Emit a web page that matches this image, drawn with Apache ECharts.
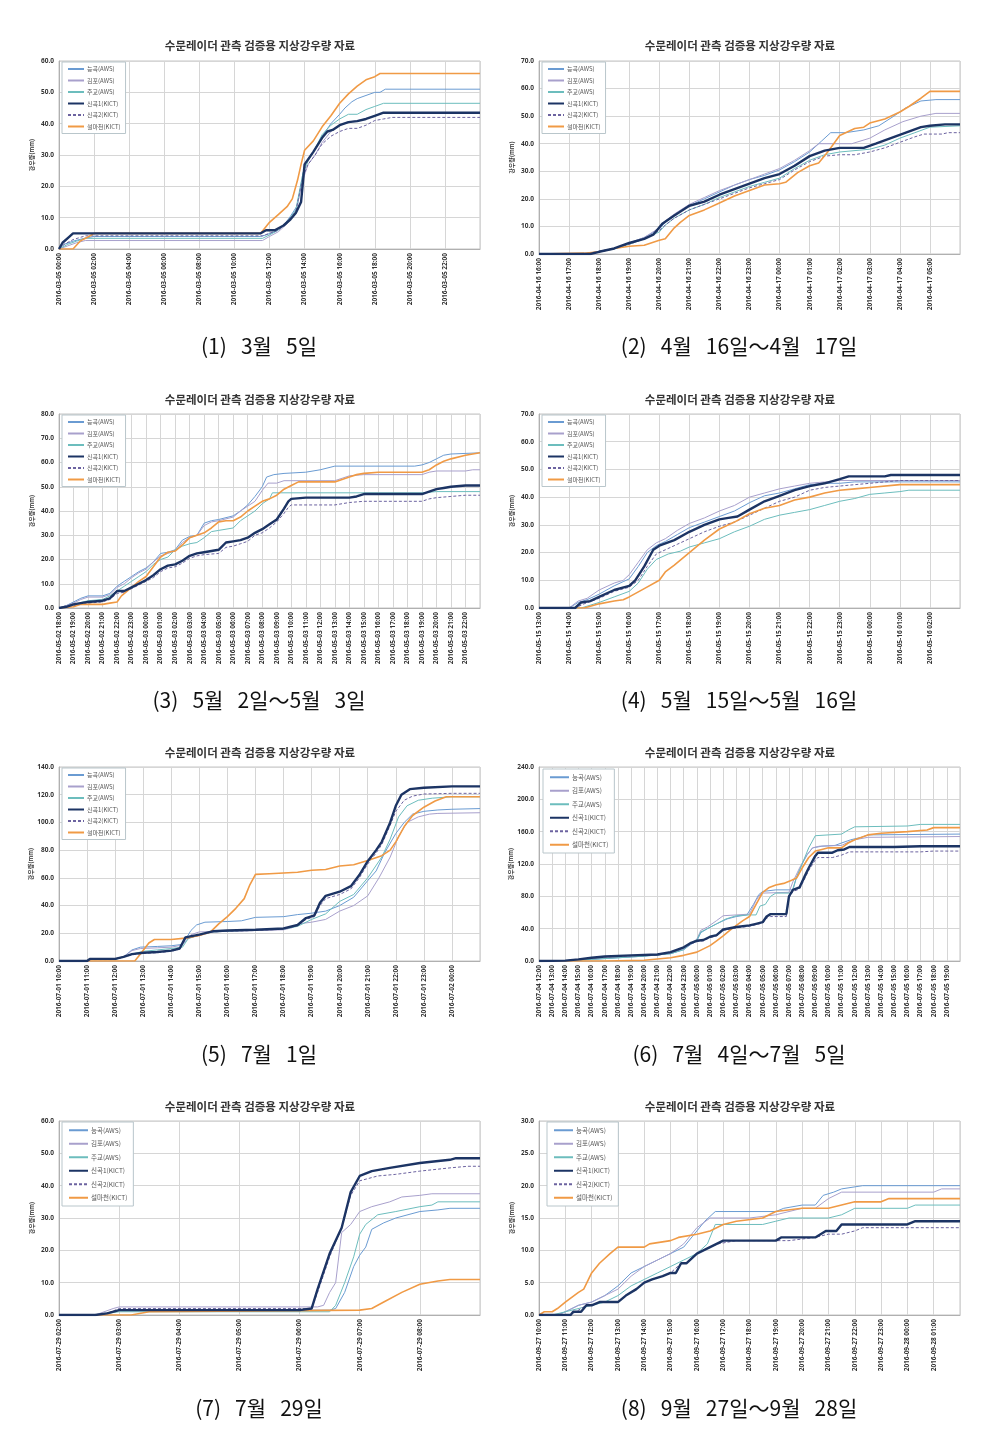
<!DOCTYPE html>
<html><head><meta charset="utf-8">
<script src="https://cdn.jsdelivr.net/npm/echarts@6/dist/echarts.min.js"></script>
<style>html,body{margin:0;padding:0;background:#fff}#c{width:981px;height:1441px}</style>
</head><body><div id="c"></div>
<script>
const seriesNames = ['능곡(AWS)','김포(AWS)','주교(AWS)','신곡1(KICT)','신곡2(KICT)','설마천(KICT)'];
const chartTitle = '수문레이더 관측 검증용 지상강우량 자료';
const yAxisName = '강우량(mm)';
const captions = ['(1)   3월   5일','(2)   4월   16일～4월   17일','(3)   5월   2일～5월   3일','(4)   5월   15일～5월   16일',
  '(5)   7월   1일','(6)   7월   4일～7월   5일','(7)   7월   29일','(8)   9월   27일～9월   28일'];

// x tick labels per panel
const p1_xlabels = ['2016-03-05 00:00','2016-03-05 02:00','2016-03-05 04:00','2016-03-05 06:00','2016-03-05 08:00','2016-03-05 10:00','2016-03-05 12:00','2016-03-05 14:00','2016-03-05 16:00','2016-03-05 18:00','2016-03-05 20:00','2016-03-05 22:00'];
const p2_xlabels = ['2016-04-16 16:00','2016-04-16 17:00','2016-04-16 18:00','2016-04-16 19:00','2016-04-16 20:00','2016-04-16 21:00','2016-04-16 22:00','2016-04-16 23:00','2016-04-17 00:00','2016-04-17 01:00','2016-04-17 02:00','2016-04-17 03:00','2016-04-17 04:00','2016-04-17 05:00'];
const p3_xlabels = ['2016-05-02 18:00','2016-05-02 19:00','2016-05-02 20:00','2016-05-02 21:00','2016-05-02 22:00','2016-05-02 23:00','2016-05-03 00:00','2016-05-03 01:00','2016-05-03 02:00','2016-05-03 03:00','2016-05-03 04:00','2016-05-03 05:00','2016-05-03 06:00','2016-05-03 07:00','2016-05-03 08:00','2016-05-03 09:00','2016-05-03 10:00','2016-05-03 11:00','2016-05-03 12:00','2016-05-03 13:00','2016-05-03 14:00','2016-05-03 15:00','2016-05-03 16:00','2016-05-03 17:00','2016-05-03 18:00','2016-05-03 19:00','2016-05-03 20:00','2016-05-03 21:00','2016-05-03 22:00'];
const p4_xlabels = ['2016-05-15 13:00','2016-05-15 14:00','2016-05-15 15:00','2016-05-15 16:00','2016-05-15 17:00','2016-05-15 18:00','2016-05-15 19:00','2016-05-15 20:00','2016-05-15 21:00','2016-05-15 22:00','2016-05-15 23:00','2016-05-16 00:00','2016-05-16 01:00','2016-05-16 02:00'];
const p5_xlabels = ['2016-07-01 10:00','2016-07-01 11:00','2016-07-01 12:00','2016-07-01 13:00','2016-07-01 14:00','2016-07-01 15:00','2016-07-01 16:00','2016-07-01 17:00','2016-07-01 18:00','2016-07-01 19:00','2016-07-01 20:00','2016-07-01 21:00','2016-07-01 22:00','2016-07-01 23:00','2016-07-02 00:00'];
const p6_xlabels = ['2016-07-04 12:00','2016-07-04 13:00','2016-07-04 14:00','2016-07-04 15:00','2016-07-04 16:00','2016-07-04 17:00','2016-07-04 18:00','2016-07-04 19:00','2016-07-04 20:00','2016-07-04 21:00','2016-07-04 22:00','2016-07-04 23:00','2016-07-05 00:00','2016-07-05 01:00','2016-07-05 02:00','2016-07-05 03:00','2016-07-05 04:00','2016-07-05 05:00','2016-07-05 06:00','2016-07-05 07:00','2016-07-05 08:00','2016-07-05 09:00','2016-07-05 10:00','2016-07-05 11:00','2016-07-05 12:00','2016-07-05 13:00','2016-07-05 14:00','2016-07-05 15:00','2016-07-05 16:00','2016-07-05 17:00','2016-07-05 18:00','2016-07-05 19:00'];
const p7_xlabels = ['2016-07-29 02:00','2016-07-29 03:00','2016-07-29 04:00','2016-07-29 05:00','2016-07-29 06:00','2016-07-29 07:00','2016-07-29 08:00'];
const p8_xlabels = ['2016-09-27 10:00','2016-09-27 11:00','2016-09-27 12:00','2016-09-27 13:00','2016-09-27 14:00','2016-09-27 15:00','2016-09-27 16:00','2016-09-27 17:00','2016-09-27 18:00','2016-09-27 19:00','2016-09-27 20:00','2016-09-27 21:00','2016-09-27 22:00','2016-09-27 23:00','2016-09-28 00:00','2016-09-28 01:00'];

// data: [hours since first tick, cumulative rainfall mm]
const p1_neunggok = [[0,0],[0.3,1.5],[0.8,2.5],[1.5,3.5],[2,4],[11.5,4],[11.8,4.5],[12.3,5.5],[12.8,7.5],[13.2,10.5],[13.6,14],[13.9,24],[14.1,28],[14.5,31],[15,36],[15.5,40],[16,43],[16.3,45],[16.7,47],[17,48],[17.5,49],[18,50],[18.3,50],[18.6,51],[24,51]];
const p1_gimpo = [[0,0],[0.5,1],[1,2],[1.5,2.7],[11.6,2.7],[12,4],[12.5,5.5],[13,8],[13.5,12],[13.9,22],[14.2,27],[14.6,30],[15,34],[15.5,37.5],[16,39.5],[16.5,40.5],[17,41],[17.5,41.5],[18,42.5],[18.5,43.5],[24,43.5]];
const p1_jugyo = [[0,0],[0.5,1.5],[1,2.5],[1.5,3.4],[11.6,3.4],[12,4.5],[12.5,6],[13,8.5],[13.5,12.5],[13.9,24],[14.2,28],[14.6,32],[15,36.5],[15.5,39.5],[16,41.5],[16.5,43],[17,43],[17.5,44.5],[18,45.5],[18.5,46.5],[24,46.5]];
const p1_singok1 = [[0,0],[0.2,2],[0.5,3.5],[0.8,5],[11.5,5],[11.8,6],[12.3,6],[12.8,7.5],[13.2,9.5],[13.5,11.5],[13.8,15],[14,27],[14.5,31],[15,35.5],[15.3,37.5],[15.6,38],[16,39.5],[16.5,40.5],[17,40.8],[17.5,41.5],[18,42.5],[18.5,43.5],[24,43.5]];
const p1_singok2 = [[0,0],[0.3,1.5],[0.8,3],[1.5,4.2],[11.6,4.2],[12,5],[12.5,6],[13,8.5],[13.5,12],[13.9,23],[14.2,27],[14.6,30],[15,33.5],[15.5,36],[16,37.5],[16.5,38.5],[17,38.5],[17.5,39.5],[18,41],[18.5,41.5],[19,42],[24,42]];
const p1_seolma = [[0,0],[0.8,0],[1.2,2.5],[1.7,4],[2,5],[11.5,5],[12,8.5],[12.5,11],[13,13.5],[13.3,16],[13.6,22],[13.8,27],[14,31.5],[14.5,34.5],[15,39],[15.5,42.5],[16,46.5],[16.5,49.5],[17,52],[17.5,54],[18,55],[18.3,56],[24,56]];

const p2_neunggok = [[0,0],[1.5,0],[2,1],[2.5,2],[3,4],[3.5,6],[4,9],[4.2,11.5],[4.5,14],[5,17.5],[5.5,20],[6,22.5],[6.5,25],[7,27],[7.5,28.5],[8,30.5],[8.5,33.5],[9,37],[9.4,41],[9.7,44],[10.2,44],[10.8,45],[11.3,46.5],[11.8,50],[12.2,53],[12.7,55.5],[13.2,56],[14,56]];
const p2_gimpo = [[0,0],[1.5,0],[2,1],[2.5,2],[3,4],[3.5,6],[4,9.5],[4.2,12],[4.5,14.5],[5,18],[5.5,20.5],[6,23],[6.5,25],[7,27],[7.5,29],[8,31],[8.5,34],[9,37.5],[9.3,40],[10.4,40],[11,42],[11.5,45],[12.1,48],[12.7,50],[13.2,51],[14,51]];
const p2_jugyo = [[0,0],[1.6,0],[2,0.8],[2.5,1.8],[3,3.5],[3.5,5.5],[4,8],[4.2,10.5],[4.5,13],[5,16],[5.5,18],[6,20.5],[6.5,22.5],[7,24.5],[7.5,26],[8,27.5],[8.5,31],[9,34],[9.5,36],[10,37],[11,38],[11.5,39.5],[12,42],[12.5,44],[13,46],[14,46.5]];
const p2_singok1 = [[0,0],[1.7,0],[2,0.8],[2.5,2],[3,4],[3.5,5.5],[3.8,7],[4.1,11],[4.5,14],[5,17.5],[5.5,19],[6,21.5],[6.5,23.5],[7,25.5],[7.5,27.5],[8,29],[8.5,32],[9,35.5],[9.5,37.5],[10,38.5],[10.8,38.5],[11.2,40],[11.7,42],[12.2,44],[12.7,46],[13,46.5],[13.5,47],[14,47]];
const p2_singok2 = [[0,0],[1.7,0],[2,0.8],[2.5,2],[3,3.5],[3.5,5.5],[4,8.5],[4.2,10.5],[4.5,13],[5,16],[5.5,18],[6,20],[6.5,22],[7,24],[7.5,25.5],[8,27],[8.5,30.5],[9,33.5],[9.5,35.5],[10,36],[10.5,36],[11,37],[11.5,38.5],[12,40.5],[12.5,42.5],[12.8,43.5],[13.4,43.5],[13.6,44],[14,44]];
const p2_seolma = [[0,0],[1.5,0.3],[2,0.8],[2.5,2],[3,2.8],[3.5,3.2],[4,5],[4.2,5.5],[4.5,9.5],[4.7,11.5],[5,14],[5.5,16],[6,18.5],[6.5,21],[7,23],[7.5,25],[8,25.5],[8.2,26],[8.6,29.5],[9,32],[9.3,33],[9.6,37],[10,43],[10.5,45.5],[10.8,46],[11,47.5],[11.5,49],[12,51.5],[12.3,53.5],[12.7,56.5],[13,59],[14,59]];

const p3_neunggok = [[0,0],[0.5,1],[1,2.5],[1.5,4],[2,5],[3,5],[3.5,6],[4,9],[4.5,11],[5,13],[5.5,15],[6,16.5],[6.5,19],[7,22.5],[7.5,23],[8,24],[8.5,28],[9,29.5],[9.5,30],[10,35],[10.5,36],[11,36.5],[12,38],[12.5,40],[13,42.5],[13.5,46],[14,50],[14.3,54],[14.8,55],[15.5,55.5],[17,56],[18,57],[19,58.5],[24.5,58.5],[25,59],[25.5,60],[26,61.5],[26.5,63],[27,63.5],[29,64]];
const p3_gimpo = [[0,0],[0.5,1],[1,2],[1.5,3.5],[2,4.5],[3,4.5],[3.5,5.5],[4,8.5],[4.5,10],[5,12.5],[5.5,14.5],[6,16],[6.5,19],[7,21.5],[7.5,22.5],[8,23.5],[8.5,27],[9,29],[9.5,30],[10,34],[10.5,35.5],[11,36],[12,37.5],[12.5,40],[13,42],[13.5,44],[14,48.5],[14.4,51.5],[15,51.5],[15.5,52.5],[19,52.5],[19.5,53.5],[20,54.5],[21,55],[25,55],[25.5,56],[26,56.5],[28,56.5],[28.5,57],[29,57]];
const p3_jugyo = [[0,0],[0.5,0.5],[1,1.5],[2,3],[3,3.5],[3.5,5],[4,7],[4.5,9],[5,11],[5.5,13],[6,15],[6.5,18],[7,20],[7.5,21],[8,24],[8.5,25.5],[9,26.5],[9.5,27],[10,29],[10.5,31.5],[11,32],[12,33],[12.5,36],[13,38],[13.5,40],[14,43],[14.5,45],[14.7,47.5],[25,47.5],[26,48],[29,48]];
const p3_singok1 = [[0,0],[0.5,0.5],[1,1.5],[2,2.5],[3,3],[3.5,4],[4,7],[4.5,7],[5,8.5],[5.5,10],[6,11.5],[6.5,13.5],[7,16],[7.5,17.5],[8,18],[8.5,19.5],[9,21.5],[9.5,22.5],[10,23],[11,24],[11.5,27],[12,27.5],[12.5,28],[13,29],[13.5,31],[14,32.5],[14.5,34.5],[15,36.5],[15.5,41],[15.8,44],[16,45],[17,45.5],[20,45.5],[20.5,46],[21,47],[25,47],[25.5,48],[26,49],[26.5,49.5],[27,50],[28,50.5],[29,50.5]];
const p3_singok2 = [[0,0],[0.5,0.5],[1,1],[2,2],[3,2.5],[3.5,3.5],[4,6],[4.5,6.5],[5,8],[5.5,9.5],[6,11],[6.5,12.5],[7,15],[7.5,16.5],[8,17],[8.5,18.5],[9,20.5],[9.5,21.5],[10,22],[11,22.5],[11.5,25],[12,25.5],[12.5,26.5],[13,27.5],[13.5,30],[14,31],[14.5,33],[15,35.5],[15.5,39],[15.8,41.5],[16,42.5],[19,42.5],[20,43.5],[21,44],[25,44],[25.5,45],[26,45.5],[27,46],[28,46.5],[29,46.5]];
const p3_seolma = [[0,0],[1,0.5],[1.5,1.5],[3,1.5],[3.5,2],[4,2.5],[4.3,5],[5,8.5],[5.5,11],[6,13],[6.5,17],[7,21],[7.5,23],[8,23.5],[8.5,26],[9,29],[9.5,30],[10,31],[10.5,33],[11,35.5],[11.5,36],[12,36],[12.5,37.5],[13,40],[13.5,42],[14,44],[14.5,45],[15,46.5],[15.5,49],[16,50.5],[16.5,52],[19,52],[19.5,53],[20,54],[20.5,55],[21,55.5],[22,56],[25,56],[25.5,57],[26,59],[26.5,60.5],[27,61.5],[28,63],[29,64]];

const p4_neunggok = [[0,0],[1,0],[1.3,2],[1.6,3],[2,5],[2.5,8],[2.8,9.5],[3,10.5],[3.3,15],[3.6,20],[3.9,22.5],[4.2,24],[4.6,26.5],[5,29],[5.5,31],[6,33],[6.5,35],[7,38],[7.5,40.5],[8,41.5],[8.5,43],[9,44.5],[9.5,45],[10,45],[10.5,45.5],[14,45.5]];
const p4_gimpo = [[0,0],[1,0],[1.3,2.5],[1.6,3.5],[2,6.5],[2.5,9],[2.8,10],[3,12],[3.3,16.5],[3.6,21],[3.9,23.5],[4.2,25],[4.6,28],[5,30.5],[5.5,32.5],[6,35],[6.5,37],[7,40],[7.5,41.5],[8,43],[8.5,44],[9,45],[9.5,45.5],[10,46],[14,46]];
const p4_jugyo = [[0,0],[1.4,0],[1.7,1],[2,2],[2.5,4],[3,6],[3.3,9],[3.6,14],[3.9,17.5],[4.3,19.5],[4.7,20.5],[5,22],[5.5,23.5],[6,25],[6.5,27.5],[7,29.5],[7.5,32],[8,33.5],[8.5,34.5],[9,35.5],[9.5,37],[10,38.5],[10.5,39.5],[11,41],[11.5,41.5],[12,42],[12.3,42.5],[14,42.5]];
const p4_singok1 = [[0,0],[1.2,0],[1.4,2],[1.7,2.5],[2,4],[2.5,6.5],[3,8],[3.2,10],[3.5,15],[3.8,21],[4,22.5],[4.5,24.5],[5,27.5],[5.5,30],[6,32],[6.3,32.5],[6.6,33],[7,35.5],[7.5,38.5],[8,40.5],[8.5,42.5],[9,44],[9.5,45],[10,46.5],[10.3,47.5],[11.5,47.5],[11.7,48],[14,48]];
const p4_singok2 = [[0,0],[1.2,0],[1.5,1.5],[2,3.5],[2.5,6],[3,7.5],[3.3,10],[3.6,15],[3.9,19.5],[4.2,21],[4.6,23],[5,25],[5.5,27.5],[6,29.5],[6.5,31],[7,33.5],[7.5,36],[8,38.5],[8.5,40],[9,42.5],[9.5,43.5],[10,44],[11,45],[11.5,45.5],[12,46],[14,46]];
const p4_seolma = [[0,0],[1.5,0],[2,1.5],[2.5,2.5],[2.8,3],[3,4],[3.5,7],[4,10],[4.2,13],[4.5,15.5],[5,20],[5.5,24.5],[6,28.5],[6.5,31],[7,34],[7.5,36],[8,37],[8.5,39],[9,40],[9.5,41.5],[10,42.5],[10.5,43],[11,43.5],[12,44.5],[14,44.5]];

const p5_neunggok = [[0,0],[1,0],[1.1,1.5],[2,1.5],[2.3,3],[2.6,8],[2.9,10],[3.5,10.5],[4,11],[4.4,12],[4.7,22],[4.9,26],[5.2,28],[6,28.5],[6.5,29],[7,31.5],[8,32],[8.5,33.5],[9,34.5],[9.5,36],[10,40],[10.5,46],[11,58],[11.3,65],[11.6,78],[12,92],[12.3,100],[12.6,106],[13,108],[13.5,109],[14,109.5],[15,110]];
const p5_gimpo = [[0,0],[1,0],[1.1,1.5],[2,1.5],[2.3,3],[2.6,7.5],[2.9,9],[3.5,9.5],[4,10],[4.4,11.5],[4.7,19],[5,21],[6,21.5],[8,22.5],[8.3,24],[8.6,27],[9,28],[9.5,30],[10,36],[10.5,40],[11,47],[11.4,60],[11.8,75],[12.1,90],[12.4,100],[12.8,104],[13.2,106],[13.5,106.5],[15,107]];
const p5_jugyo = [[0,0],[1,0],[1.1,1],[2,1],[2.3,3],[2.6,5],[3,7],[3.5,8],[4,9],[4.4,10],[4.6,16],[5,19],[5.5,21],[6,21.5],[7,22.5],[8,23],[8.5,25],[9,30],[9.5,34],[10,43],[10.5,48],[11,60],[11.5,75],[11.8,88],[12.1,104],[12.4,112],[12.8,116],[13.3,117.5],[14,118.5],[15,118.5]];
const p5_singok1 = [[0,0],[1,0],[1.1,1.5],[2,1.5],[2.3,3],[2.6,5],[3,6],[3.5,6.5],[4,7.5],[4.3,9],[4.5,17],[5,19],[5.5,21.5],[6,22],[7,22.5],[8,23.5],[8.5,26],[8.8,31],[9.1,33],[9.3,42],[9.5,47],[10,50],[10.4,54],[10.7,62],[11,72],[11.3,80],[11.5,86],[11.8,100],[12,112],[12.2,120],[12.5,124],[13,125],[14,126],[15,126]];
const p5_singok2 = [[0,0],[1,0],[1.1,1],[2,1],[2.3,3],[2.6,4.5],[3,5.5],[3.5,6],[4,7],[4.3,8.5],[4.5,16],[5,18.5],[5.5,21],[6,21.5],[7,22],[8,23],[8.5,25.5],[8.8,30],[9.1,32],[9.3,40],[9.5,45],[10,48],[10.4,52],[10.7,60],[11,70],[11.3,78],[11.5,84],[11.8,98],[12,108],[12.3,116],[12.6,119],[13,120.5],[14,121],[15,121]];
const p5_seolma = [[0,0],[2.7,0],[2.9,5],[3.2,13],[3.4,15.5],[4,15.5],[4.5,16.5],[5,18.5],[5.4,21],[5.7,27],[6,32],[6.3,38],[6.6,45],[6.8,55],[7,62.5],[7.5,63],[8,63.5],[8.5,64],[9,65.5],[9.5,66],[10,68.5],[10.5,69.5],[11,72.5],[11.5,76],[11.8,80],[12,86],[12.3,97],[12.6,105],[13,111],[13.4,115.5],[13.8,118.5],[15,118.5]];

const p6_neunggok = [[0,0],[2,0.5],[4,2],[6,4],[8,6],[10,9],[11,14],[11.5,20],[12,25],[12.3,35],[12.8,40],[13.5,46],[14.3,52],[15,55],[15.8,57],[16.3,70],[16.7,82],[17,86],[18,88],[19.3,88],[19.6,105],[20,120],[20.4,132],[20.8,140],[21.5,142],[22.5,143],[23,146],[23.7,150],[24.5,153],[25,156],[32,157]];
const p6_gimpo = [[0,0],[2,0.5],[4,2.5],[6,4.5],[8,6.5],[10,9.5],[11,15],[11.5,22],[12,27],[12.3,38],[12.8,42],[13.5,50],[14,56],[15,57],[16,58],[16.5,75],[16.8,82],[17,84],[19,85],[19.3,98],[19.8,115],[20.3,130],[20.8,140],[21.3,142],[23,143],[23.5,147],[24,150],[25,153],[32,154]];
const p6_jugyo = [[0,0],[2,0.5],[4,2],[6,4],[8,6],[10,9],[11,14],[11.5,22],[12,26],[12.3,36],[12.8,40],[13.5,46],[14.2,52],[15,56],[16,57],[16.5,57],[16.8,68],[17.2,70],[17.6,80],[18,84],[19.2,84],[19.5,100],[20,120],[20.5,140],[21,155],[22,156],[23,157],[23.5,162],[24,166],[28,167],[29,169],[32,169]];
const p6_singok1 = [[0,0],[2,0.5],[3,2],[4,4],[5,5.5],[7,7],[9,8],[10,11],[11,17],[11.5,22],[12,25],[12.5,26],[13,30],[13.5,32],[14,39],[15,42],[16,44],[16.5,46],[17,48],[17.3,55],[17.6,58],[18.8,58],[19,80],[19.3,88],[19.8,91],[20.2,105],[20.5,115],[21,130],[21.2,134],[22.3,134],[22.7,137],[23.2,138],[23.6,141],[27,141],[29,142],[32,142]];
const p6_singok2 = [[0,0],[2,0.5],[3,2],[4,3.5],[5,5],[7,6.5],[9,7.5],[10,10],[11,16],[11.5,21],[12,24],[12.5,25],[13,29],[13.5,31],[14,38],[15,41],[16,43],[16.5,45],[17,47],[17.3,53],[17.6,55],[18.8,55],[19,78],[19.3,86],[19.8,89],[20.2,102],[20.5,112],[21,125],[21.2,128],[22.3,128],[23,131],[23.6,135],[29,135],[30,136],[32,136]];
const p6_seolma = [[0,0],[5,0],[8,1],[10,4],[11,7],[12,11],[12.5,15],[13,19],[13.5,25],[14,31],[14.5,38],[15,44],[15.5,50],[16,55],[16.5,70],[17,85],[17.5,91],[18,94],[18.6,96],[19.2,100],[19.6,103],[20,115],[20.5,128],[21,136],[21.5,138],[22,140],[23,140],[23.5,146],[24,150],[25,156],[26,158],[28,160],[29.5,162],[30,165],[32,165]];

const p7_neunggok = [[0,0],[0.6,0],[0.9,1],[1,1.5],[4.5,1.5],[4.6,2],[4.75,7],[4.9,15],[5,18.5],[5.1,21],[5.2,26.5],[5.4,28.5],[5.6,30],[6,32],[6.3,32.5],[6.5,33],[7,33]];
const p7_gimpo = [[0,0],[0.6,0],[0.9,2],[1,2.5],[4.3,2.5],[4.4,3],[4.5,7],[4.6,10],[4.7,25.5],[4.85,28],[5,32],[5.2,33.5],[5.5,35],[5.7,36.5],[6,37],[6.2,37.5],[7,37.5]];
const p7_jugyo = [[0,0],[0.6,0],[1,1],[4.5,1],[4.6,3],[4.75,10],[4.9,18],[5,25],[5.1,28],[5.3,31],[5.6,32],[6,33.5],[6.2,34],[6.3,35],[7,35]];
const p7_singok1 = [[0,0],[0.6,0],[0.8,0.5],[1,1.5],[4,1.5],[4.2,2],[4.3,8],[4.5,19],[4.7,27],[4.85,38],[5,43],[5.2,44.5],[5.5,45.5],[6,47],[6.5,48],[6.6,48.5],[7,48.5]];
const p7_singok2 = [[0,0],[0.6,0],[0.8,0.5],[1,2],[4.2,2],[4.3,7],[4.5,18],[4.7,27],[4.85,37],[5,41.5],[5.3,43],[5.6,43.5],[6,44.5],[6.5,45.5],[6.8,46],[7,46]];
const p7_seolma = [[0,0],[1.2,0],[1.5,1],[5,1.5],[5.2,2],[5.4,4],[5.7,7],[6,9.5],[6.3,10.5],[6.5,11],[7,11]];

const p8_neunggok = [[0,0],[0.7,0],[1,0.5],[1.5,1.5],[2,2],[2.5,3],[3,4.5],[3.5,6.5],[4,7.5],[4.5,8.5],[5,9.5],[5.5,10.5],[6,13],[6.3,14.5],[6.7,16],[9,16],[9.3,16.5],[10,17],[10.5,17],[10.8,18.5],[11.2,19],[11.5,19.5],[12.3,20],[16,20]];
const p8_gimpo = [[0,0],[0.7,0],[1,0.5],[1.5,1.5],[2,2],[2.5,3],[3,4],[3.5,6],[4,7.5],[4.5,8.5],[5,9.5],[5.5,11],[6,13.5],[6.5,15],[8,15],[9,15.5],[10,16.5],[10.5,16.5],[11,18],[11.5,19],[15,19],[15.3,19.5],[16,19.5]];
const p8_jugyo = [[0,0],[0.5,0],[1,0.5],[2,1.5],[2.5,2],[3,3],[3.5,4.5],[4,5.5],[4.5,6.5],[5,7.5],[5.5,8.5],[6,9.5],[6.4,11],[6.7,14],[8.5,14],[9,14.5],[9.5,15],[11,15],[11.5,15.5],[12,16.5],[14,16.5],[14.3,17],[16,17]];
const p8_singok1 = [[0,0],[1.2,0],[1.3,0.5],[1.6,0.5],[1.8,1.5],[2,1.5],[2.3,2],[3,2],[3.3,3],[3.7,4],[4,5],[4.3,5.5],[4.7,6],[5,6.5],[5.2,6.5],[5.4,8],[5.6,8],[6,9.5],[6.5,10.5],[7,11.5],[9,11.5],[9.2,12],[10.5,12],[10.7,12.5],[10.9,13],[11.3,13],[11.5,14],[14,14],[14.3,14.5],[16,14.5]];
const p8_singok2 = [[0,0],[1.2,0],[1.4,0.5],[1.8,1.5],[2,1.5],[2.3,2],[3,2],[3.3,3],[3.7,4],[4,5],[4.3,5.5],[4.7,6],[5,6.5],[5.4,8],[5.6,8],[6,9.5],[6.5,10.5],[6.8,11],[7.5,11.5],[9.5,11.5],[10.5,12],[11,12.5],[11.5,12.5],[12,13],[12.3,13.5],[16,13.5]];
const p8_seolma = [[0,0],[0.2,0.5],[0.5,0.5],[0.7,1],[1,2],[1.5,3.5],[1.7,4],[2,6.5],[2.3,8],[2.7,9.5],[3,10.5],[4,10.5],[4.2,11],[5,11.5],[5.3,12],[6,12.5],[6.5,13],[7,14],[7.5,14.5],[8.5,15],[9,16],[10,16.5],[11,16.5],[11.5,17],[12,17.5],[13,17.5],[13.3,18],[16,18]];

// axis ranges
const xMax = [24,14,29,14,15,32,7,16];
const xInterval = [2,1,1,1,1,1,1,1];
const yMax = [60,70,80,70,140,240,60,30];
const yInterval = [10,10,10,10,20,40,10,5];

const panelData = [
  [p1_neunggok,p1_gimpo,p1_jugyo,p1_singok1,p1_singok2,p1_seolma],
  [p2_neunggok,p2_gimpo,p2_jugyo,p2_singok1,p2_singok2,p2_seolma],
  [p3_neunggok,p3_gimpo,p3_jugyo,p3_singok1,p3_singok2,p3_seolma],
  [p4_neunggok,p4_gimpo,p4_jugyo,p4_singok1,p4_singok2,p4_seolma],
  [p5_neunggok,p5_gimpo,p5_jugyo,p5_singok1,p5_singok2,p5_seolma],
  [p6_neunggok,p6_gimpo,p6_jugyo,p6_singok1,p6_singok2,p6_seolma],
  [p7_neunggok,p7_gimpo,p7_jugyo,p7_singok1,p7_singok2,p7_seolma],
  [p8_neunggok,p8_gimpo,p8_jugyo,p8_singok1,p8_singok2,p8_seolma]
];
const panelXLabels = [p1_xlabels,p2_xlabels,p3_xlabels,p4_xlabels,p5_xlabels,p6_xlabels,p7_xlabels,p8_xlabels];

// styles
const seriesColors = ['#6a9bd2','#a8a0cc','#6cbdbd','#1c3464','#6c63a0','#f09a45'];
const seriesWidths = [1,1,1,2.4,1,1.6];
const seriesDash = ['solid','solid','solid','solid',[3,2],'solid'];

const gridPos = [
  {left:59,top:61,h:188},{left:539,top:61,h:193},
  {left:59,top:414,h:194},{left:539,top:414,h:194},
  {left:59,top:767,h:194},{left:539,top:767,h:194},
  {left:59,top:1121,h:194},{left:539,top:1121,h:194}
];
const legendPos = [
  {l:62,t:62,big:false},{l:542,t:62,big:false},
  {l:62,t:415,big:false},{l:542,t:415,big:false},
  {l:62,t:768,big:false},{l:543,t:769,big:true},
  {l:62,t:1122,big:true},{l:547,t:1122,big:true}
];
const titleY = [40,40,394,394,747,747,1101,1101];
const captionY = [336,336,690,690,1044,1044,1398,1398];
const KR = '"Noto Sans CJK KR", sans-serif';

const option = {
  animation:false,
  backgroundColor:'#fff',
  title:[], grid:[], xAxis:[], yAxis:[], legend:[], series:[]
};
for (let i=0;i<8;i++){
  const col = i%2;
  const cx = col===0 ? 260 : 740;
  option.title.push({text:chartTitle,left:cx,top:titleY[i],textAlign:'center',padding:0,
    textStyle:{fontFamily:KR,fontSize:11.5,fontWeight:'bold',color:'#333'}});
  option.title.push({text:captions[i],left:col===0?259:739,top:captionY[i],textAlign:'center',padding:0,
    textStyle:{fontFamily:KR,fontSize:21,fontWeight:'normal',color:'#111'}});
  const g = gridPos[i];
  option.grid.push({left:g.left,top:g.top,width:421,height:g.h,show:true,borderColor:'#c4c4c4',borderWidth:1,containLabel:false});
  const labels = panelXLabels[i];
  const xi = xInterval[i];
  option.xAxis.push({type:'value',gridIndex:i,min:0,max:xMax[i],interval:xi,
    axisLine:{show:true,lineStyle:{color:'#b0b0b0'}},axisTick:{show:false},
    splitLine:{show:true,lineStyle:{color:'#d6d6d6',width:1}},
    axisLabel:{rotate:90,fontSize:6.5,margin:4,color:'#333',fontFamily:'"Open Sans", sans-serif',fontWeight:'bold',
      showMaxLabel:false,showMinLabel:true,formatter:(v)=>{const k=Math.round(v/xi);return labels[k]||'';}}});
  option.yAxis.push({type:'value',gridIndex:i,min:0,max:yMax[i],interval:yInterval[i],
    name:yAxisName,nameLocation:'middle',nameGap:24,nameRotate:90,
    nameTextStyle:{fontFamily:KR,fontSize:6,color:'#333',fontWeight:'bold'},
    axisLine:{show:true,lineStyle:{color:'#b0b0b0'}},axisTick:{show:false},
    splitLine:{show:true,lineStyle:{color:'#d6d6d6',width:1}},
    axisLabel:{fontSize:6.5,margin:5,color:'#333',fontWeight:'bold',fontFamily:'"Open Sans", sans-serif',
      formatter:(v)=>v.toFixed(1)}});
  const lp = legendPos[i];
  option.legend.push({orient:'vertical',left:lp.l,top:lp.t,
    data:seriesNames.map(n=>n+'\u200b'.repeat(i)),
    formatter:(n)=>n.replace(/\u200b/g,''),
    backgroundColor:'#fff',borderColor:'#b9c6cb',borderWidth:1,
    padding:lp.big?[5,6,5,6]:[4,5,4,5],
    itemWidth:lp.big?19:16,itemHeight:lp.big?8:7,itemGap:lp.big?7:5.5,
    itemStyle:{color:'rgba(0,0,0,0)',borderColor:'rgba(0,0,0,0)',borderWidth:0,opacity:0},
    textStyle:{fontFamily:KR,fontSize:lp.big?6.5:6,color:'#555',padding:[0,0,0,-2]}});
  panelData[i].forEach((d,s)=>{
    option.series.push({type:'line',name:seriesNames[s]+'\u200b'.repeat(i),xAxisIndex:i,yAxisIndex:i,
      data:d,symbol:'none',showSymbol:false,smooth:false,
      z: s===3?4:(s===5?3:2),
      lineStyle:{color:seriesColors[s],width:seriesWidths[s],type:seriesDash[s]},
      itemStyle:{color:seriesColors[s]},emphasis:{disabled:true}});
  });
}
const chart = echarts.init(document.getElementById('c'),null,{renderer:'canvas'});
chart.setOption(option);
</script>
</body></html>
